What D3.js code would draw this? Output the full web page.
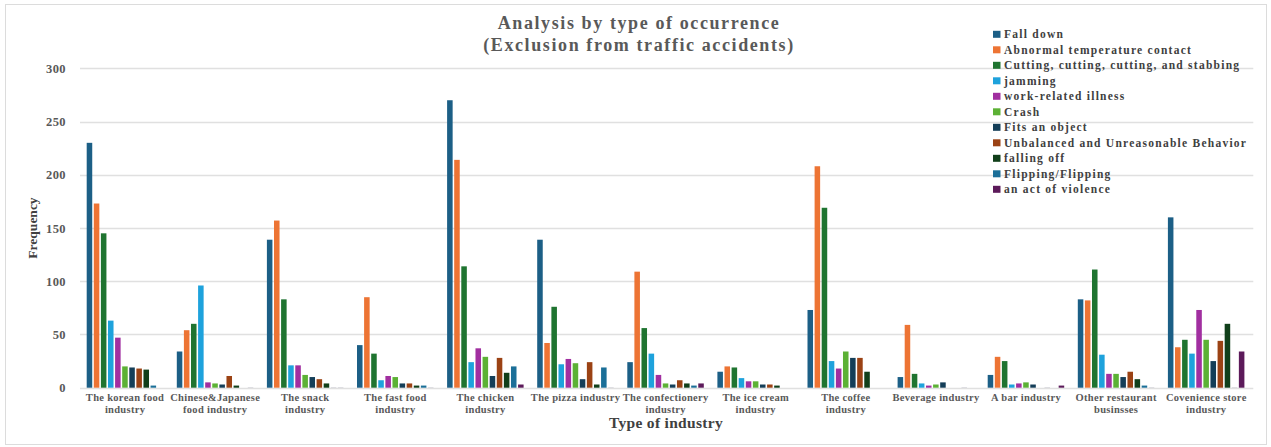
<!DOCTYPE html>
<html>
<head>
<meta charset="utf-8">
<script src="https://cdn.jsdelivr.net/npm/d3@7"></script>
<style>
  html, body { margin: 0; padding: 0; background: #fff; }
  svg { display: block; }
  text { font-family: "Liberation Serif", "DejaVu Serif", serif; font-weight: bold; }
</style>
</head>
<body>
<svg id="chart" width="1271" height="447"></svg>
<script>
// Industry categories (two-line axis labels)
const industries = [
  ["The korean food", "industry"],
  ["Chinese&Japanese", "food industry"],
  ["The snack", "industry"],
  ["The fast food", "industry"],
  ["The chicken", "industry"],
  ["The pizza industry"],
  ["The confectionery", "industry"],
  ["The ice cream", "industry"],
  ["The coffee", "industry"],
  ["Beverage industry"],
  ["A bar industry"],
  ["Other restaurant", "businsses"],
  ["Covenience store", "industry"]
];

// Accident counts per type of occurrence, one value per industry
const fallDown     = [230, 34, 139, 40, 270, 139, 24, 15, 73, 10, 12, 83, 160];
const abnormalTemp = [173, 54, 157, 85, 214, 42, 109, 20, 208, 59, 29, 82, 38];
const cutting      = [145, 60, 83, 32, 114, 76, 56, 19, 169, 13, 25, 111, 45];
const jamming      = [63, 96, 21, 7, 24, 22, 32, 9, 25, 4, 3, 31, 32];
const workIllness  = [47, 5, 21, 11, 37, 27, 12, 6, 18, 2, 4, 13, 73];
const crash        = [20, 4, 12, 10, 29, 23, 4, 6, 34, 3, 5, 13, 45];
const fitsObject   = [19, 3, 10, 4, 11, 8, 3, 3, 28, 5, 3, 10, 25];
const unbalanced   = [18, 11, 8, 4, 28, 24, 7, 3, 28, 0, 0, 15, 44];
const fallingOff   = [17, 2, 4, 2, 14, 3, 4, 2, 15, 0, 0.5, 8, 60];
const flipping     = [2, 0, 0.5, 2, 20, 19, 2, 0, 0, 0.5, 0, 2, 0.5];
const violence     = [0, 0.5, 0.5, 0.5, 3, 0.5, 4, 0, 0, 0, 2, 0.5, 34];

const seriesNames = [
  "Fall down",
  "Abnormal temperature contact",
  "Cutting, cutting, cutting, and stabbing",
  "jamming",
  "work-related illness",
  "Crash",
  "Fits an object",
  "Unbalanced and Unreasonable Behavior",
  "falling off",
  "Flipping/Flipping",
  "an act of violence"
];
const seriesValues = [fallDown, abnormalTemp, cutting, jamming, workIllness, crash,
                      fitsObject, unbalanced, fallingOff, flipping, violence];
const seriesColors = ["#1c5f86", "#ed7434", "#1f7430", "#1ea2dc", "#a12fa0", "#5cb135",
                      "#143e58", "#9b4214", "#113f1a", "#1b6f98", "#5c1a5a"];

const yTicks = [0, 50, 100, 150, 200, 250, 300];

const svg = d3.select("#chart");
const W = 1271, H = 447;

// outer frame
svg.append("rect")
  .attr("x", 5.5).attr("y", 4.5)
  .attr("width", W - 10).attr("height", H - 7)
  .attr("fill", "#fff").attr("stroke", "#dcdcdc").attr("stroke-width", 1);

const plotLeft = 80, plotRight = 1251.3;
const y = d3.scaleLinear().domain([0, 300]).range([387.7, 68.3]);
const x0 = d3.scaleBand().domain(d3.range(industries.length)).range([plotLeft, plotRight]).padding(0);
const x1 = d3.scaleBand().domain(d3.range(seriesNames.length)).range([6.7, 83.2]).paddingInner(0.22).paddingOuter(0);
const color = d3.scaleOrdinal().domain(d3.range(seriesNames.length)).range(seriesColors);

// gridlines
svg.append("g").selectAll("line").data(yTicks).join("line")
  .attr("x1", plotLeft).attr("x2", plotRight + 2)
  .attr("y1", d => Math.round(y(d)) + 0.5).attr("y2", d => Math.round(y(d)) + 0.5)
  .attr("stroke", "#e0e0e0").attr("stroke-width", 1.3);

// y axis tick labels
const yAxis = d3.axisLeft(y).tickValues(yTicks).tickSize(0).tickPadding(0);
const gy = svg.append("g").attr("transform", "translate(66,0)").call(yAxis);
gy.select(".domain").remove();
gy.selectAll("text")
  .attr("font-family", "Liberation Serif").attr("font-weight", "bold")
  .attr("font-size", 12.5).attr("fill", "#595959").attr("letter-spacing", 0.4);

// bars
const groups = svg.append("g").selectAll("g")
  .data(industries.map((d, i) => i))
  .join("g")
  .attr("transform", i => `translate(${x0(i)},0)`);

groups.selectAll("rect")
  .data(i => seriesValues.map((vals, s) => ({ s, v: vals[i] })))
  .join("rect")
  .attr("x", d => x1(d.s))
  .attr("width", x1.bandwidth())
  .attr("y", d => y(d.v))
  .attr("height", d => y(0) - y(d.v))
  .attr("fill", d => d.v < 1 ? "#c8c8d0" : color(d.s));

// x axis category labels
const xAxis = d3.axisBottom(x0).tickSize(0).tickPadding(0).tickFormat(() => "");
const gx = svg.append("g").attr("transform", `translate(0,${y(0)})`).call(xAxis);
gx.select(".domain").remove();
gx.selectAll(".tick").each(function(i) {
  const t = d3.select(this).append("text")
    .attr("text-anchor", "middle")
    .attr("font-family", "Liberation Serif").attr("font-weight", "bold")
    .attr("font-size", 10.5).attr("fill", "#595959").attr("letter-spacing", 0.3);
  industries[i].forEach((line, k) => {
    t.append("tspan").attr("x", 0).attr("y", 13.5 + k * 11.5).text(line);
  });
});

// title
const title = svg.append("g").attr("fill", "#595959").attr("font-size", 18).attr("text-anchor", "middle");
title.append("text").attr("x", 639).attr("y", 29).attr("letter-spacing", 1.6).text("Analysis by type of occurrence");
title.append("text").attr("x", 639).attr("y", 51).attr("letter-spacing", 1.6).text("(Exclusion from traffic accidents)");

// axis titles
svg.append("text")
  .attr("transform", "translate(37,228) rotate(-90)")
  .attr("text-anchor", "middle").attr("font-size", 13.5).attr("fill", "#404040")
  .text("Frequency");
svg.append("text")
  .attr("x", 666).attr("y", 428)
  .attr("text-anchor", "middle").attr("font-size", 15.5).attr("fill", "#404040").attr("letter-spacing", 0.3)
  .text("Type of industry");

// legend
const legend = svg.append("g").attr("transform", "translate(993,34.3)");
const items = legend.selectAll("g").data(seriesNames.map((n, i) => i)).join("g")
  .attr("transform", i => `translate(0,${i * 15.5})`);
items.append("rect").attr("x", 0).attr("y", -3.5).attr("width", 7.5).attr("height", 7)
  .attr("fill", i => color(i));
items.append("text").attr("x", 11).attr("y", 4)
  .attr("font-size", 11.5).attr("fill", "#404040").attr("letter-spacing", 1.25)
  .text(i => seriesNames[i]);
</script>
</body>
</html>
